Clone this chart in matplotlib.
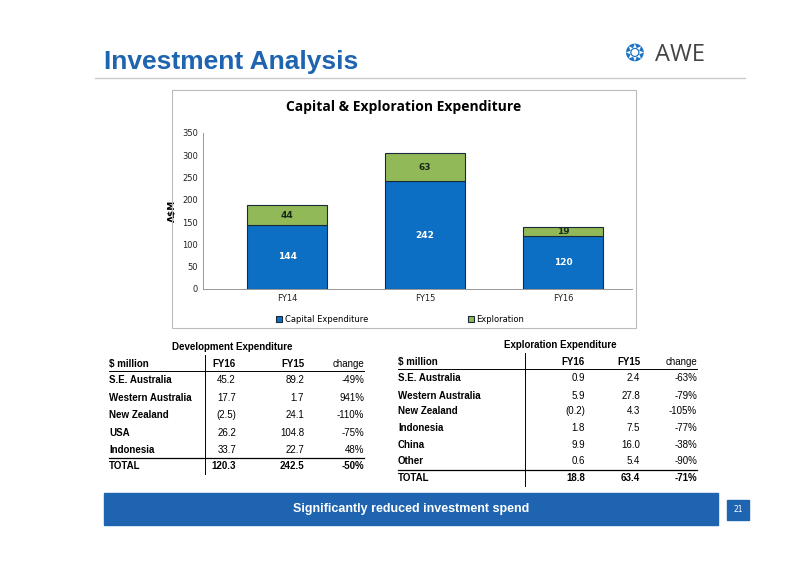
import matplotlib
matplotlib.use("Agg")
import matplotlib.pyplot as plt
from matplotlib.patches import Rectangle

years = ["FY14", "FY15", "FY16"]
capex = [144, 242, 120]
explo = [44, 63, 19]

dev_rows = ["S.E. Australia", "Western Australia", "New Zealand", "USA", "Indonesia", "TOTAL"]
dev_fy16 = ["45.2", "17.7", "(2.5)", "26.2", "33.7", "120.3"]
dev_fy15 = ["89.2", "1.7", "24.1", "104.8", "22.7", "242.5"]
dev_chg = ["-49%", "941%", "-110%", "-75%", "48%", "-50%"]

exp_rows = ["S.E. Australia", "Western Australia", "New Zealand", "Indonesia", "China", "Other", "TOTAL"]
exp_fy16 = ["0.9", "5.9", "(0.2)", "1.8", "9.9", "0.6", "18.8"]
exp_fy15 = ["2.4", "27.8", "4.3", "7.5", "16.0", "5.4", "63.4"]
exp_chg = ["-63%", "-79%", "-105%", "-77%", "-38%", "-90%", "-71%"]

W, H = 800, 565
fig = plt.figure(figsize=(8, 5.65), dpi=100)
BLUE = "#1f64b0"

def fx(x): return x / W
def fy(y): return 1 - y / H

# Header
fig.text(fx(104), fy(62), "Investment Analysis", color=BLUE, fontsize=19, fontweight="bold", va="center", family="Liberation Sans")
fig.add_artist(plt.Line2D([fx(95), fx(745)], [fy(78), fy(78)], color="#cccccc", lw=1))
fig.text(fx(635), fy(54), "❂", color="#1f75c4", fontsize=17, va="center", ha="center", family="DejaVu Sans")
fig.text(fx(655), fy(55), "AWE", color="#444444", fontsize=17, va="center", family="Open Sans")

# Chart frame
fig.add_artist(Rectangle((fx(172), fy(328)), fx(636 - 172), (328 - 90) / H, fill=False, ec="#bbbbbb", lw=0.8))
fig.text(fx(404), fy(107), "Capital & Exploration Expenditure", fontsize=10, fontweight="bold", ha="center", va="center", family="Open Sans")

ax = fig.add_axes([fx(203), fy(289), (632 - 203) / W, (289 - 133) / H])
x = range(len(years))
ax.bar(x, capex, width=0.58, color="#0d6fc4", edgecolor="#1a2a3a", lw=0.8, label="Capital Expenditure")
ax.bar(x, explo, bottom=capex, width=0.58, color="#92b957", edgecolor="#1a2a3a", lw=0.8, label="Exploration")
for i in x:
    ax.text(i, capex[i] / 2, str(capex[i]), color="white", ha="center", va="center", fontsize=6.5, fontweight="bold")
    ax.text(i, capex[i] + explo[i] / 2, str(explo[i]), color="#1a2a1a", ha="center", va="center", fontsize=6.5, fontweight="bold")
ax.set_xlim(-0.61, 2.5)
ax.set_ylim(0, 350)
ax.set_yticks(range(0, 351, 50))
ax.set_xticks(list(x))
ax.set_xticklabels(years)
ax.tick_params(labelsize=6, length=0, colors="#222222")
for s in ["top", "right"]:
    ax.spines[s].set_visible(False)
for s in ["left", "bottom"]:
    ax.spines[s].set_color("#888888")
    ax.spines[s].set_linewidth(0.6)
ax.set_ylabel("A$M", fontsize=6.5, fontweight="bold", labelpad=4)
ax.legend(loc="upper center", bbox_to_anchor=(0.46, -0.12), ncol=2, frameon=False, fontsize=6, handlelength=0.7, handleheight=0.7, columnspacing=12, handletextpad=0.3)

# Tables
def table(title, tx, rows, c1, c2, c3, xl, xr1, xr2, xr3, xv, ys, yhead, ytitle, w_end):
    fs = 7
    ff = "Liberation Sans"
    fig.text(fx(tx), fy(ytitle), title, fontsize=fs, fontweight="bold", ha="center", va="center", family=ff)
    fig.text(fx(xl), fy(yhead), "$ million", fontsize=fs, fontweight="bold", va="center", family=ff)
    fig.text(fx(xr1), fy(yhead), "FY16", fontsize=fs, fontweight="bold", ha="right", va="center", family=ff)
    fig.text(fx(xr2), fy(yhead), "FY15", fontsize=fs, fontweight="bold", ha="right", va="center", family=ff)
    fig.text(fx(xr3), fy(yhead), "change", fontsize=fs, ha="right", va="center", family=ff)
    fig.add_artist(plt.Line2D([fx(xl), fx(w_end)], [fy(yhead + 7), fy(yhead + 7)], color="black", lw=0.7))
    for i, r in enumerate(rows):
        bold = r == "TOTAL"
        y = ys[i]
        fig.text(fx(xl), fy(y), r, fontsize=fs, fontweight="bold", va="center", family=ff)
        for xr, v in ((xr1, c1[i]), (xr2, c2[i]), (xr3, c3[i])):
            fig.text(fx(xr), fy(y), v, fontsize=fs, fontweight="bold" if bold else "normal", ha="right", va="center", family=ff)
    ytl = ys[-1] - 8
    fig.add_artist(plt.Line2D([fx(xl), fx(w_end)], [fy(ytl), fy(ytl)], color="black", lw=0.9))
    fig.add_artist(plt.Line2D([fx(xv), fx(xv)], [fy(ytitle + 8), fy(ys[-1] + 8)], color="black", lw=0.7))

table("Development Expenditure", 232, dev_rows, dev_fy16, dev_fy15, dev_chg,
      109, 236, 304, 364, 205, [380, 398, 415, 433, 450, 466], 364, 347, 364)
table("Exploration Expenditure", 560, exp_rows, exp_fy16, exp_fy15, exp_chg,
      398, 585, 640, 697, 525, [378, 396, 411, 428, 445, 461, 478], 362, 345, 697)

# Banner
fig.add_artist(Rectangle((fx(104), fy(525)), fx(718 - 104), 32 / H, color=BLUE))
fig.text(fx(411), fy(509), "Significantly reduced investment spend", color="white", fontsize=9, fontweight="bold", ha="center", va="center", family="Liberation Sans")
fig.add_artist(Rectangle((fx(727), fy(520)), fx(22), 20 / H, color=BLUE))
fig.text(fx(738), fy(510), "21", color="white", fontsize=5.5, ha="center", va="center")

fig.savefig("out.png", dpi=100)
